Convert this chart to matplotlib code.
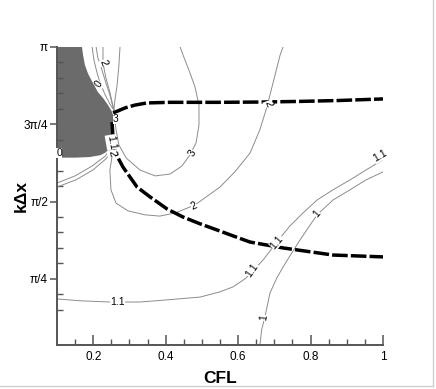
import numpy as np
import matplotlib
matplotlib.use("Agg")
import matplotlib.pyplot as plt
from matplotlib.lines import Line2D

plt.rcParams['font.family'] = ['Liberation Sans', 'DejaVu Sans']

PI = np.pi
# ---- data (x = CFL, y = k*dx / pi) ----
gray_x = [0.100, 0.169, 0.172, 0.177, 0.186, 0.199, 0.213, 0.227, 0.241, 0.252, 0.256,
          0.256, 0.255, 0.249, 0.238, 0.220, 0.190, 0.150, 0.100]
gray_y = [1.000, 1.000, 0.974, 0.942, 0.913, 0.884, 0.854, 0.835, 0.812, 0.790, 0.774,
          0.738, 0.699, 0.677, 0.661, 0.650, 0.644, 0.642, 0.642]

t1_x = [0.197, 0.202, 0.210, 0.219, 0.233, 0.246, 0.257]
t1_y = [1.000, 0.958, 0.919, 0.884, 0.845, 0.816, 0.796]
t2_x = [0.208, 0.213, 0.224, 0.235, 0.246, 0.257]
t2_y = [1.000, 0.964, 0.926, 0.884, 0.845, 0.796]
t3_x = [0.227, 0.227, 0.235, 0.246, 0.257]
t3_y = [1.000, 0.948, 0.900, 0.854, 0.796]
t4_x = [0.274, 0.271, 0.266, 0.260, 0.257]
t4_y = [1.000, 0.942, 0.877, 0.829, 0.796]

l1_x = [0.255, 0.233, 0.197, 0.150, 0.100]
l1_y = [0.680, 0.647, 0.615, 0.583, 0.560]
l2_x = [0.255, 0.235, 0.199, 0.152, 0.100]
l2_y = [0.667, 0.638, 0.602, 0.570, 0.547]

c3_x = [0.257, 0.263, 0.271, 0.291, 0.329, 0.371, 0.412, 0.445, 0.467, 0.484, 0.492,
        0.492, 0.481, 0.464, 0.448, 0.440]
c3_y = [0.790, 0.732, 0.683, 0.641, 0.602, 0.583, 0.589, 0.615, 0.651, 0.690, 0.748,
        0.812, 0.871, 0.926, 0.974, 1.000]

c2_x = [0.255, 0.246, 0.249, 0.263, 0.296, 0.343, 0.384, 0.426, 0.481, 0.550, 0.591,
        0.633, 0.660, 0.677, 0.688, 0.702, 0.716, 0.724]
c2_y = [0.667, 0.602, 0.538, 0.495, 0.470, 0.457, 0.453, 0.463, 0.489, 0.547, 0.596,
        0.657, 0.732, 0.796, 0.845, 0.909, 0.974, 1.000]

c11_x = [0.100, 0.164, 0.246, 0.329, 0.404, 0.495, 0.550, 0.586, 0.619, 0.638, 0.669,
         0.707, 0.743, 0.779, 0.818, 0.862, 0.909, 0.953, 1.000]
c11_y = [0.185, 0.179, 0.175, 0.175, 0.182, 0.191, 0.208, 0.224, 0.250, 0.272, 0.311,
         0.369, 0.421, 0.463, 0.505, 0.538, 0.570, 0.602, 0.635]

c1_x = [0.660, 0.665, 0.674, 0.688, 0.707, 0.724, 0.743, 0.771, 0.818, 0.862, 0.909,
        0.953, 1.000]
c1_y = [0.033, 0.085, 0.127, 0.204, 0.253, 0.288, 0.324, 0.376, 0.457, 0.505, 0.538,
        0.570, 0.596]

up_x = [0.255, 0.268, 0.288, 0.315, 0.348, 0.412, 0.550, 0.669, 0.771, 0.881, 1.000]
up_y = [0.787, 0.793, 0.803, 0.812, 0.819, 0.821, 0.821, 0.822, 0.824, 0.827, 0.832]

lo_x = [0.252, 0.255, 0.260, 0.282, 0.321, 0.357, 0.404, 0.448, 0.495, 0.542, 0.586,
        0.633, 0.724, 0.862, 1.000]
lo_y = [0.757, 0.699, 0.660, 0.612, 0.547, 0.515, 0.476, 0.450, 0.428, 0.408, 0.389,
        0.369, 0.350, 0.327, 0.321]

labels = [
    ("2", 0.227, 0.948, -70), ("0", 0.216, 0.880, 55), ("3", 0.263, 0.767, 0),
    ("1.1", 0.249, 0.692, -80), ("2", 0.252, 0.657, -80), ("0", 0.106, 0.657, 0),
    ("3", 0.473, 0.657, 60), ("2", 0.478, 0.486, 25), ("2", 0.683, 0.816, -70),
    ("1.1", 0.266, 0.175, 0), ("1.1", 0.638, 0.279, 55), ("1.1", 0.707, 0.369, 50),
    ("1", 0.671, 0.124, 80), ("1", 0.818, 0.460, 50), ("1.1", 0.992, 0.647, 30),
]

ytick_vals = [0.25, 0.5, 0.75, 1.0]
ytick_labels = ["π/4", "π/2", "3π/4", "π"]
xtick_vals = [0.2, 0.4, 0.6, 0.8, 1.0]
xtick_labels = ["0.2", "0.4", "0.6", "0.8", "1"]

# ---- figure ----
fig = plt.figure(figsize=(4.36, 3.89), dpi=100)
ax = fig.add_axes([0.1307, 0.1131, 0.7477, 0.7661])

Y = lambda v: np.asarray(v) * PI

ax.fill(gray_x, Y(gray_y), color='#6b6b6b', lw=0, zorder=1)

thin = dict(color='#8c8c8c', lw=0.7, zorder=2)
for xs, ys in [(t1_x, t1_y), (t2_x, t2_y), (t3_x, t3_y), (t4_x, t4_y),
               (l1_x, l1_y), (l2_x, l2_y), (c3_x, c3_y), (c2_x, c2_y),
               (c11_x, c11_y), (c1_x, c1_y)]:
    ax.plot(xs, Y(ys), **thin)

thick = dict(color='black', lw=2.5, ls=(0, (4.5, 0.9)), zorder=3, solid_capstyle='butt',
             dash_capstyle='butt')
ax.plot(up_x, Y(up_y), **thick)
ax.plot(lo_x, Y(lo_y), **thick)

for txt, x, y, r in labels:
    ax.text(x, y * PI, txt, fontsize=7.5, rotation=r, ha='center', va='center',
            rotation_mode='anchor', zorder=5,
            bbox=dict(facecolor='white', edgecolor='none', pad=0.1))

ax.set_xlim(0.1, 1.0)
ax.set_ylim(0.113, PI)

ax.set_xticks(xtick_vals)
ax.set_xticklabels(xtick_labels)
ax.set_xticks(np.arange(0.15, 1.0, 0.05), minor=True)
ax.set_yticks(Y(ytick_vals))
ax.set_yticklabels(ytick_labels)
ax.set_yticks(np.arange(3, 20) * PI / 20, minor=True)

ax.tick_params(axis='x', which='major', direction='in', length=7, width=1.1,
               color='#555555', labelsize=8.5, pad=4)
ax.tick_params(axis='x', which='minor', direction='in', length=4, width=1.0,
               color='#555555')
ax.tick_params(axis='y', which='major', direction='out', length=5, width=1.1,
               color='#555555', labelsize=8.5, pad=1.5)
ax.tick_params(axis='y', which='minor', direction='in', length=4, width=1.0,
               color='#555555')

for s in ['top', 'right']:
    ax.spines[s].set_visible(False)
for s in ['left', 'bottom']:
    ax.spines[s].set_color('#555555')
    ax.spines[s].set_linewidth(1.4)

ax.set_xlabel('CFL', fontsize=12.5, fontweight='bold')
ax.set_ylabel('kΔx', fontsize=12.5, fontweight='bold')
ax.xaxis.set_label_coords(0.5, -0.087)
ax.yaxis.set_label_coords(-0.087, 0.5)

fig.add_artist(Line2D([433 / 436, 433 / 436], [3 / 389, 1], color='#d0d0d0', lw=1))
fig.add_artist(Line2D([0, 433 / 436], [3 / 389, 3 / 389], color='#d0d0d0', lw=1))

fig.savefig('out.png', dpi=100)
